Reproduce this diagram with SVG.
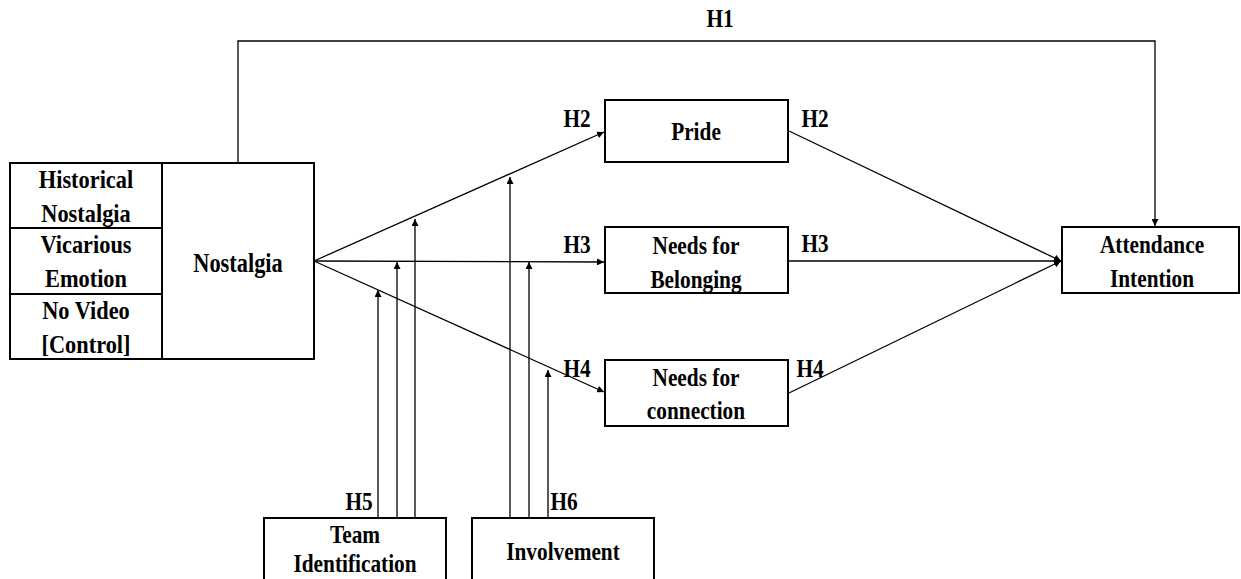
<svg xmlns="http://www.w3.org/2000/svg" width="1241" height="579" viewBox="0 0 1241 579">
<style>
.box{fill:#fff;stroke:#000;stroke-width:2}
.ln{fill:none;stroke:#000;stroke-width:1.3}
text{font-family:'Liberation Serif','DejaVu Serif',serif;font-weight:bold;font-size:26px;fill:#000;text-anchor:middle}
</style>
<defs>
<marker id="ah" viewBox="0 0 10 10" refX="10" refY="5" markerWidth="7" markerHeight="7" markerUnits="userSpaceOnUse" orient="auto">
<path d="M0,0 L10,5 L0,10 z" fill="#000"/>
</marker>
</defs>
<g id="connectors">
<polyline class="ln" points="238,162 238,41 1155,41 1155,226" marker-end="url(#ah)"/>
<line class="ln" x1="314" y1="261" x2="604" y2="132" marker-end="url(#ah)"/>
<line class="ln" x1="314" y1="261" x2="604" y2="262" marker-end="url(#ah)"/>
<line class="ln" x1="314" y1="261" x2="604" y2="392" marker-end="url(#ah)"/>
<line class="ln" x1="789" y1="131" x2="1061" y2="261" marker-end="url(#ah)"/>
<line class="ln" x1="789" y1="261" x2="1061" y2="261" marker-end="url(#ah)"/>
<line class="ln" x1="789" y1="393" x2="1061" y2="261" marker-end="url(#ah)"/>
<line class="ln" x1="378" y1="518" x2="378" y2="290" marker-end="url(#ah)"/>
<line class="ln" x1="397" y1="518" x2="397" y2="262" marker-end="url(#ah)"/>
<line class="ln" x1="415" y1="518" x2="415" y2="219" marker-end="url(#ah)"/>
<line class="ln" x1="510" y1="518" x2="510" y2="177" marker-end="url(#ah)"/>
<line class="ln" x1="529" y1="518" x2="529" y2="262" marker-end="url(#ah)"/>
<line class="ln" x1="548" y1="518" x2="548" y2="370" marker-end="url(#ah)"/>
<text transform="translate(720,27) scale(0.82,1)">H1</text>
<text transform="translate(577,127) scale(0.82,1)">H2</text>
<text transform="translate(577,253) scale(0.82,1)">H3</text>
<text transform="translate(577,377) scale(0.82,1)">H4</text>
<text transform="translate(815,127) scale(0.82,1)">H2</text>
<text transform="translate(815,252) scale(0.82,1)">H3</text>
<text transform="translate(810,377) scale(0.82,1)">H4</text>
<text transform="translate(359,510) scale(0.82,1)">H5</text>
<text transform="translate(564,510) scale(0.82,1)">H6</text>
</g>
<g id="nostalgia">
<rect class="box" x="10" y="163" width="304" height="196"/>
<line class="box" x1="162" y1="163" x2="162" y2="359"/>
<line class="box" x1="10" y1="228" x2="162" y2="228"/>
<line class="box" x1="10" y1="294" x2="162" y2="294"/>
<text transform="translate(86,188) scale(0.86,1)">Historical</text>
<text transform="translate(86,222) scale(0.86,1)">Nostalgia</text>
<text transform="translate(86,253) scale(0.86,1)">Vicarious</text>
<text transform="translate(86,287) scale(0.86,1)">Emotion</text>
<text transform="translate(86,319) scale(0.86,1)">No Video</text>
<text transform="translate(86,353) scale(0.86,1)">[Control]</text>
<text transform="translate(238,272) scale(0.8,1)" style="font-size:28px">Nostalgia</text>
</g>
<g id="pride">
<rect class="box" x="605" y="100" width="183" height="62"/>
<text transform="translate(696,140) scale(0.82,1)">Pride</text>
</g>
<g id="belonging">
<rect class="box" x="605" y="227" width="183" height="66"/>
<text transform="translate(696,254) scale(0.82,1)">Needs for</text>
<text transform="translate(696,288) scale(0.82,1)">Belonging</text>
</g>
<g id="connection">
<rect class="box" x="605" y="360" width="183" height="66"/>
<text transform="translate(696,386) scale(0.82,1)">Needs for</text>
<text transform="translate(696,419) scale(0.82,1)">connection</text>
</g>
<g id="attendance">
<rect class="box" x="1062" y="227" width="177" height="66"/>
<text transform="translate(1152,253) scale(0.82,1)">Attendance</text>
<text transform="translate(1152,287) scale(0.82,1)">Intention</text>
</g>
<g id="team">
<rect class="box" x="264" y="518" width="182" height="70"/>
<text transform="translate(355,543) scale(0.82,1)">Team</text>
<text transform="translate(355,572) scale(0.82,1)">Identification</text>
</g>
<g id="involvement">
<rect class="box" x="472" y="518" width="182" height="70"/>
<text transform="translate(563,560) scale(0.82,1)">Involvement</text>
</g>
</svg>
